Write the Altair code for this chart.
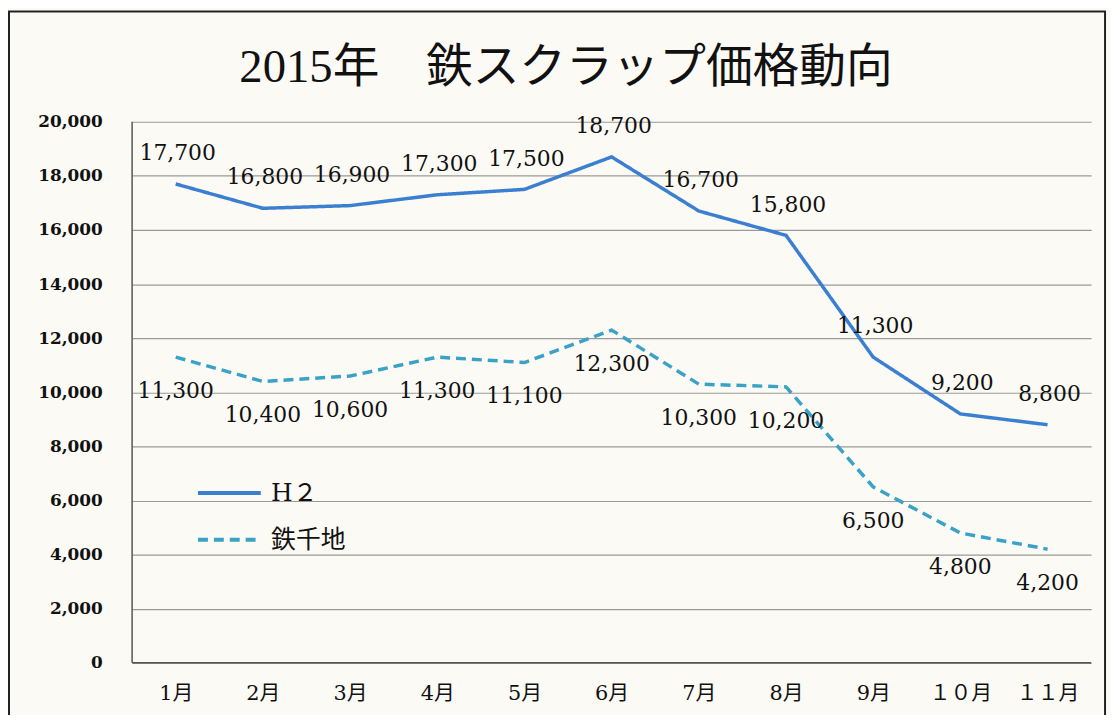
import altair as alt
import pandas as pd

months = ["1月", "2月", "3月", "4月", "5月", "6月", "7月", "8月", "9月", "１０月", "１１月"]
h2 = [17700, 16800, 16900, 17300, 17500, 18700, 16700, 15800, 11300, 9200, 8800]
tetsu = [11300, 10400, 10600, 11300, 11100, 12300, 10300, 10200, 6500, 4800, 4200]
series = ["H２", "鉄千地"]
title_text = "2015年　鉄スクラップ価格動向"

rows = []
for m, v in zip(months, h2):
    rows.append({"month": m, "value": v, "series": series[0]})
for m, v in zip(months, tetsu):
    rows.append({"month": m, "value": v, "series": series[1]})
df = pd.DataFrame(rows)

SERIF = "DejaVu Serif, Noto Sans CJK JP"
TSERIF = "Liberation Serif, Noto Sans CJK JP"
W, H = 966, 545

x = alt.X("month:N", sort=months, scale=alt.Scale(domain=months, paddingInner=0, paddingOuter=0.5),
          axis=alt.Axis(title=None, labelAngle=0, labelFont=SERIF, labelFontSize=21, labelColor="#111",
                        labelPadding=20, ticks=False, domain=False, grid=False))
y = alt.Y("value:Q", scale=alt.Scale(domain=[0, 20000]),
          axis=alt.Axis(title=None, values=list(range(0, 20001, 2000)), format=",d", labelFont=SERIF,
                        labelFontSize=17, labelFontWeight="bold", labelColor="#111", labelPadding=30,
                        ticks=False, domain=False, grid=True, gridColor="#9a9a9a", gridWidth=1.2))

color = alt.Color("series:N", scale=alt.Scale(domain=series, range=["#3a7fd0", "#3aa2c6"]),
                  legend=alt.Legend(title=None, orient="none", legendX=64, legendY=340,
                                    symbolType="stroke", symbolSize=4000, symbolStrokeWidth=4,
                                    labelFont=SERIF, labelFontSize=25, labelColor="#111",
                                    rowPadding=-15, labelOffset=8))
dash = alt.StrokeDash("series:N", scale=alt.Scale(domain=series, range=[[1, 0], [10, 6]]), legend=None)

one = pd.DataFrame({"k": [0]})
frame = alt.Chart(one).mark_rect(fill=None, stroke="#222", strokeWidth=2).encode(
    x=alt.value(-124), x2=alt.value(W + 14), y=alt.value(-111), y2=alt.value(H + 90))

title = alt.Chart(one).mark_text(text=title_text, font=TSERIF, fontSize=47, color="#111",
                                 align="center", baseline="alphabetic").encode(
    x=alt.value(437), y=alt.value(-40))

axis_l = alt.Chart(one).mark_rule(color="#555", strokeWidth=1.5).encode(
    x=alt.value(0), x2=alt.value(0), y=alt.value(0), y2=alt.value(H))
axis_b = alt.Chart(one).mark_rule(color="#555", strokeWidth=1.5).encode(
    x=alt.value(0), x2=alt.value(W), y=alt.value(H), y2=alt.value(H))

base = alt.Chart(df)
lines = base.mark_line(strokeWidth=3.5).encode(x=x, y=y, color=color, strokeDash=dash, detail="series:N")

lab_h2 = base.transform_filter(alt.datum.series == series[0]).mark_text(
    font=SERIF, fontSize=22, color="#111", dy=-31, dx=2).encode(
    x=x, y=y, text=alt.Text("value:Q", format=","))
lab_t = base.transform_filter(alt.datum.series == series[1]).mark_text(
    font=SERIF, fontSize=22, color="#111", dy=34).encode(
    x=x, y=y, text=alt.Text("value:Q", format=","))

chart = alt.layer(frame, title, lines, axis_l, axis_b, lab_h2, lab_t).properties(
    width=W, height=H,
    autosize=alt.AutoSizeParams(type="none"),
    padding={"left": 125, "top": 112, "right": 20, "bottom": 50},
    background="#fbfaf5",
).configure_view(stroke=None)

chart.save("out.html", embed_options={"renderer": "svg", "actions": False})
